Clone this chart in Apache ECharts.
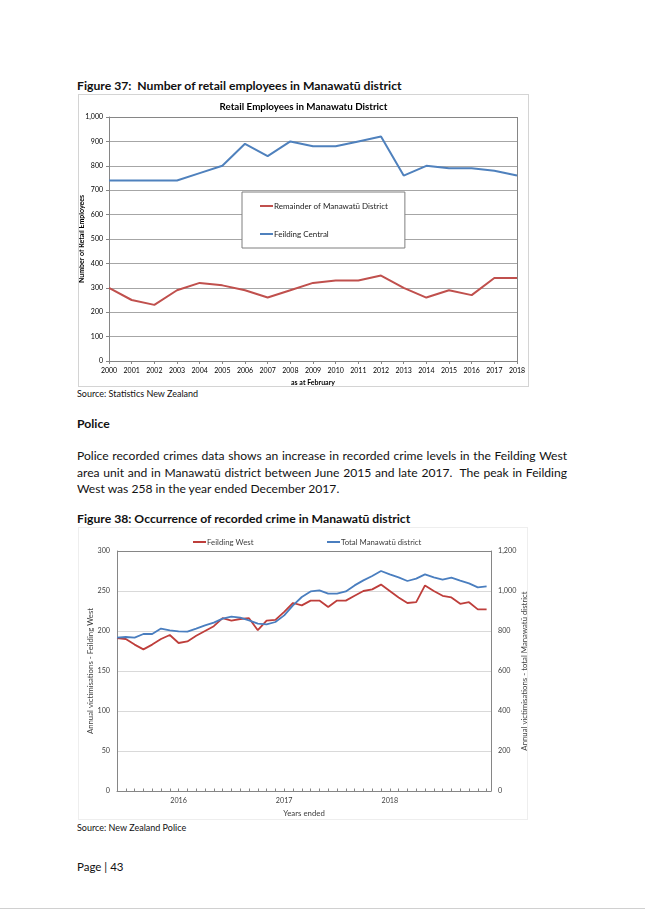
<!DOCTYPE html>
<html>
<head>
<meta charset="utf-8">
<script src="https://cdn.jsdelivr.net/npm/echarts@6/dist/echarts.min.js"></script>
<style>
  html, body { margin: 0; padding: 0; background: #fff; }
  body { width: 645px; height: 912px; position: relative; overflow: hidden; font-family: Lato, "Open Sans", sans-serif; color: #111; }
  .t { position: absolute; left: 77px; white-space: nowrap; }
  .cap { font-weight: bold; font-size: 12.2px; line-height: 14px; }
  .src { font-size: 9px; line-height: 12px; }
  .para { font-size: 12.1px; line-height: 16px; width: 490px; white-space: normal; }
  .just { text-align: justify; text-align-last: justify; }
  #c1 { position: absolute; left: 78px; top: 94px; width: 451px; height: 293px; }
  #c2 { position: absolute; left: 78px; top: 527px; width: 456px; height: 293px; }
  .frame { position: absolute; box-sizing: border-box; pointer-events: none; z-index: 5; background: transparent; }
  #f1 { left: 78px; top: 94px; width: 451px; height: 293px; border: 1px solid #d4d4d4; }
  #f2 { left: 78px; top: 527px; width: 450px; height: 293px; border: 1px solid #eeeeee; }
  #foot { position: absolute; left: 0; top: 908px; width: 645px; height: 1px; background: #d0d0d0; }
</style>
</head>
<body>
<div class="t cap" style="top:79px">Figure 37:&nbsp; Number of retail employees in Manawatū district</div>
<div id="c1"></div>
<div class="frame" id="f1"></div>
<div class="t src" style="top:388px">Source: Statistics New Zealand</div>
<div class="t cap" style="top:417px">Police</div>
<div class="t para just" style="top:448px">Police recorded crimes data shows an increase in recorded crime levels in the Feilding West</div>
<div class="t para just" style="top:465px">area unit and in Manawatū district between June 2015 and late 2017.&nbsp; The peak in Feilding</div>
<div class="t para" style="top:481px">West was 258 in the year ended December 2017.</div>
<div class="t cap" style="top:512px">Figure 38: Occurrence of recorded crime in Manawatū district</div>
<div id="c2"></div>
<div class="frame" id="f2"></div>
<div class="t src" style="top:822px">Source: New Zealand Police</div>
<div class="t" style="top:860px; font-size:11.5px; line-height:14px;">Page | 43</div>
<div id="foot"></div>
<script>
// ---------- Figure 37 data ----------
const years = ['2000','2001','2002','2003','2004','2005','2006','2007','2008','2009','2010','2011','2012','2013','2014','2015','2016','2017','2018'];
const remainderManawatu = [300,250,230,290,320,310,290,260,290,320,330,330,350,300,260,290,270,340,340];
const feildingCentral = [740,740,740,740,770,800,890,840,900,880,880,900,920,760,800,790,790,780,760];

// ---------- Figure 38 data ----------
const months = [
 'Jun 2015','Jul 2015','Aug 2015','Sep 2015','Oct 2015','Nov 2015','Dec 2015',
 'Jan 2016','Feb 2016','Mar 2016','Apr 2016','May 2016','Jun 2016','Jul 2016','Aug 2016','Sep 2016','Oct 2016','Nov 2016','Dec 2016',
 'Jan 2017','Feb 2017','Mar 2017','Apr 2017','May 2017','Jun 2017','Jul 2017','Aug 2017','Sep 2017','Oct 2017','Nov 2017','Dec 2017',
 'Jan 2018','Feb 2018','Mar 2018','Apr 2018','May 2018','Jun 2018','Jul 2018','Aug 2018','Sep 2018','Oct 2018','Nov 2018','Dec 2018'];
const feildingWest = [191,190,183,177,183,190,195,185,187,194,200,206,216,213,215,216,201,213,214,224,235,232,238,238,230,238,238,244,250,252,258,250,242,235,236,257,250,244,242,234,236,227,227];
const totalManawatu = [767,770,767,785,785,812,803,798,797,812,828,842,862,872,867,853,837,833,845,878,928,970,998,1003,987,987,998,1028,1053,1075,1100,1083,1068,1050,1062,1083,1068,1057,1067,1052,1038,1018,1023];

const FONT = 'Lato';
const RED1 = '#c0504d', BLUE1 = '#4f81bd';
const RED2 = '#be3e3b', BLUE2 = '#4a7ebf';
const fmt = v => String(v).replace(/\B(?=(\d{3})+(?!\d))/g, ',');

// ---------- Chart 1 ----------
const c1 = echarts.init(document.getElementById('c1'), null, {renderer: 'canvas'});
const grid1Lines = ['#868686','#a6a6a6','#a6a6a6','#a6a6a6','#a6a6a6','#a6a6a6','#a6a6a6','#a6a6a6','#a6a6a6','#a6a6a6','#868686'];
c1.setOption({
  animation: false,
  textStyle: { fontFamily: FONT },
  title: {
    text: 'Retail Employees in Manawatu District', left: 'center', top: 3,
    textStyle: { fontFamily: FONT, fontSize: 9.8, fontWeight: 'bold', color: '#000' }
  },
  legend: {
    orient: 'vertical', left: 164, top: 98,
    padding: [10, 17, 10, 18], itemGap: 20,
    borderColor: '#7f7f7f', borderWidth: 1, backgroundColor: '#fff',
    icon: 'rect', itemWidth: 13, itemHeight: 2,
    textStyle: { fontFamily: FONT, fontSize: 8, color: '#222', padding: [0,0,0,-4] },
    data: ['Remainder of Manawatū District', 'Feilding Central']
  },
  grid: { left: 31, right: 12, top: 23, bottom: 26, outerBoundsMode: 'none', containLabel: false },
  xAxis: {
    type: 'category', data: years, boundaryGap: false,
    name: 'as at February', nameLocation: 'middle', nameGap: 18, nameMoveOverlap: false,
    nameTextStyle: { fontFamily: FONT, fontSize: 7, fontWeight: 'bold', color: '#000' },
    axisLine: { lineStyle: { color: '#868686', width: 1 } },
    axisTick: { alignWithLabel: true, length: 3, lineStyle: { color: '#868686' } },
    axisLabel: { fontFamily: FONT, fontSize: 7, color: '#000', margin: 6, interval: 0 },
    splitLine: { show: true, interval: (i) => i === years.length - 1, lineStyle: { color: '#868686' } }
  },
  yAxis: {
    type: 'value', min: 0, max: 1000, interval: 100,
    name: 'Number of Retail Employees', nameLocation: 'middle', nameGap: 24, nameMoveOverlap: false,
    nameTextStyle: { fontFamily: FONT, fontSize: 7, fontWeight: 'bold', color: '#000' },
    axisLine: { show: true, lineStyle: { color: '#868686' } },
    axisTick: { show: true, length: 3, lineStyle: { color: '#868686' } },
    axisLabel: { fontFamily: FONT, fontSize: 7, color: '#000', margin: 6, formatter: fmt },
    splitLine: { show: true, lineStyle: { color: grid1Lines, width: 1 } }
  },
  series: [
    { name: 'Remainder of Manawatū District', type: 'line', data: remainderManawatu, showSymbol: false, symbol: 'none',
      lineStyle: { color: RED1, width: 2 }, itemStyle: { color: RED1 } },
    { name: 'Feilding Central', type: 'line', data: feildingCentral, showSymbol: false, symbol: 'none',
      lineStyle: { color: BLUE1, width: 2 }, itemStyle: { color: BLUE1 } }
  ]
});

// ---------- Chart 2 ----------
const c2 = echarts.init(document.getElementById('c2'), null, {renderer: 'canvas'});
const grid2Lines = ['#868686','#d9d9d9','#d9d9d9','#d9d9d9','#d9d9d9','#d9d9d9','#868686'];
const yearLabel = (v) => {
  const m = months[v];
  return (m && m.indexOf('Jan') === 0) ? m.slice(4) : '';
};
c2.setOption({
  animation: false,
  textStyle: { fontFamily: FONT },
  legend: [
    { left: 110, top: 6, icon: 'rect', itemWidth: 13, itemHeight: 2, data: ['Feilding West'],
      textStyle: { fontFamily: FONT, fontSize: 7.8, color: '#404040', padding: [0,0,0,-4] } },
    { left: 244, top: 6, icon: 'rect', itemWidth: 13, itemHeight: 2, data: ['Total Manawatū district'],
      textStyle: { fontFamily: FONT, fontSize: 7.8, color: '#404040', padding: [0,0,0,-4] } }
  ],
  grid: { left: 39, right: 43, top: 24, bottom: 29, outerBoundsMode: 'none', containLabel: false },
  xAxis: {
    type: 'value', min: 0, max: 42.5, interval: 1,
    name: 'Years ended', nameLocation: 'middle', nameGap: 18, nameMoveOverlap: false,
    nameTextStyle: { fontFamily: FONT, fontSize: 7.8, color: '#404040' },
    axisLine: { lineStyle: { color: '#868686' } },
    axisTick: { show: true, inside: true, length: 2.5, lineStyle: { color: '#868686' } },
    axisLabel: { fontFamily: FONT, fontSize: 7.2, color: '#404040', margin: 6, formatter: yearLabel, showMinLabel: true, showMaxLabel: true },
    splitLine: { show: false }
  },
  yAxis: [
    { type: 'value', min: 0, max: 300, interval: 50,
      name: 'Annual victimisations - Feilding West', nameLocation: 'middle', nameGap: 23, nameMoveOverlap: false,
      nameTextStyle: { fontFamily: FONT, fontSize: 7.8, color: '#404040' },
      axisLine: { show: true, lineStyle: { color: '#868686' } },
      axisTick: { show: false },
      axisLabel: { fontFamily: FONT, fontSize: 7.2, color: '#404040', margin: 7, formatter: fmt },
      splitLine: { show: true, lineStyle: { color: grid2Lines, width: 1 } } },
    { type: 'value', min: 0, max: 1200, interval: 200, position: 'right',
      name: 'Annual victimisations - total Manawatū district', nameLocation: 'middle', nameGap: 29, nameMoveOverlap: false,
      nameTextStyle: { fontFamily: FONT, fontSize: 7.8, color: '#404040' },
      axisLine: { show: true, lineStyle: { color: '#868686' } },
      axisTick: { show: false },
      axisLabel: { fontFamily: FONT, fontSize: 7.2, color: '#404040', margin: 7, formatter: fmt },
      splitLine: { show: false } }
  ],
  series: [
    { name: 'Feilding West', type: 'line', yAxisIndex: 0, showSymbol: false, symbol: 'none',
      data: feildingWest.map((v, i) => [i, v]),
      lineStyle: { color: RED2, width: 1.8 }, itemStyle: { color: RED2 } },
    { name: 'Total Manawatū district', type: 'line', yAxisIndex: 1, showSymbol: false, symbol: 'none',
      data: totalManawatu.map((v, i) => [i, v]),
      lineStyle: { color: BLUE2, width: 1.8 }, itemStyle: { color: BLUE2 } }
  ]
});
</script>
</body>
</html>
